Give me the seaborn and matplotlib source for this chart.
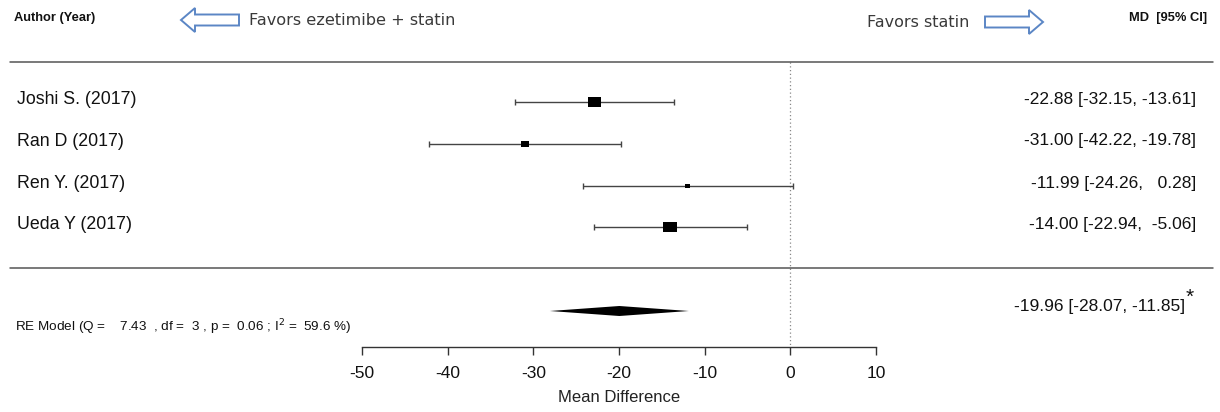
import numpy as np
import matplotlib
matplotlib.use("Agg")
import matplotlib.pyplot as plt
import seaborn as sns
from matplotlib.path import Path
from matplotlib.patches import FancyArrow
from matplotlib.transforms import blended_transform_factory

# ---------------- data ----------------
studies = ["Joshi S. (2017)", "Ran D (2017)", "Ren Y. (2017)", "Ueda Y (2017)"]
md = [-22.88, -31.00, -11.99, -14.00]
ci_lo = [-32.15, -42.22, -24.26, -22.94]
ci_hi = [-13.61, -19.78, 0.28, -5.06]
weights = [13.0, 8.0, 5.0, 14.0]          # relative box sizes
ci_text = ["-22.88 [-32.15, -13.61]", "-31.00 [-42.22, -19.78]",
           "-11.99 [-24.26,   0.28]", "-14.00 [-22.94,  -5.06]"]
summary_md, summary_lo, summary_hi = -19.96, -28.07, -11.85
summary_text = "-19.96 [-28.07, -11.85]"
re_text = r"RE Model (Q =    7.43  , df =  3 , p =  0.06 ; I$^2$ =  59.6 %)"
xticks = [-50, -40, -30, -20, -10, 0, 10]

# ---------------- layout ----------------
W, H = 1220, 412
sns.set_style("white")
plt.rcParams["font.family"] = ["Liberation Sans", "DejaVu Sans"]

fig = plt.figure(figsize=(W / 100, H / 100), dpi=100)
x0, x1, yax = 362, 876, 347
ax = fig.add_axes([x0 / W, (H - yax) / H, (x1 - x0) / W, yax / H])
ax.set_xlim(-50, 10)
ax.set_ylim(yax, 0)
for s in ["top", "left", "right"]:
    ax.spines[s].set_visible(False)
ax.spines["bottom"].set_color("#333333")
ax.spines["bottom"].set_linewidth(1.0)
ax.set_yticks([])
ax.set_xticks(xticks)
ax.set_xticklabels([str(t) for t in xticks])
ax.tick_params(axis="x", direction="out", length=6, width=1.0, color="#333333",
               labelsize=12.5, pad=7.5, bottom=True, labelcolor="#111111")
ax.set_xlabel("Mean Difference", fontsize=12, labelpad=7, color="#222222")
ax.patch.set_alpha(0)

rows_y = [102, 144, 186, 227]
sum_y = 311

# dotted reference line at 0
ax.vlines(0, 62, yax - 2, colors="#888888", linestyles=(0, (1, 2)), linewidth=0.9)

# confidence intervals
ax.errorbar(md, rows_y, xerr=[np.array(md) - np.array(ci_lo), np.array(ci_hi) - np.array(md)],
            fmt="none", ecolor="#444444", elinewidth=1.0, capsize=2.0, capthick=1.0)

# boxes (rectangular marker, wider than tall)
asp = 1.4
box = Path([(-asp, -1), (asp, -1), (asp, 1), (-asp, 1), (-asp, -1)],
           [Path.MOVETO, Path.LINETO, Path.LINETO, Path.LINETO, Path.CLOSEPOLY])
wmax = max(weights)
sizes = [(14.0 * w / wmax * 0.72) ** 2 for w in weights]
sns.scatterplot(x=md, y=rows_y, ax=ax, marker=box, s=sizes, color="black",
                edgecolor="none", linewidth=0, legend=False, zorder=3)

# summary diamond
ax.fill([summary_lo, summary_md, summary_hi, summary_md],
        [sum_y, sum_y - 5, sum_y, sum_y + 5], color="black", lw=0, zorder=3)

# ---------------- texts & lines outside ----------------
tr = blended_transform_factory(fig.transFigure, ax.transData)

def fx(px):
    return px / W

for y in [62, 268]:
    ax.plot([fx(10), fx(1213)], [y, y], transform=tr, color="#555555", lw=1.1,
            clip_on=False)

for name, y in zip(studies, rows_y):
    ax.text(fx(17), y - 3, name, transform=tr, ha="left", va="center",
            fontsize=12.8, color="#111111", clip_on=False)
for t, y in zip(ci_text, rows_y):
    ax.text(fx(1196), y - 3, t, transform=tr, ha="right", va="center",
            fontsize=12.5, color="#111111", clip_on=False)

ax.text(fx(1185), sum_y - 4, summary_text, transform=tr, ha="right", va="center",
        fontsize=12.5, color="#111111", clip_on=False)
ax.text(fx(1186), sum_y - 14, "*", transform=tr, ha="left", va="center",
        fontsize=15, color="#111111", clip_on=False)
ax.text(fx(15), 327, re_text, transform=tr, ha="left", va="center",
        fontsize=9.7, color="#111111", clip_on=False)

ax.text(fx(14), 18, "Author (Year)", transform=tr, ha="left", va="center",
        fontsize=9.3, fontweight="bold", color="#111111", clip_on=False)
ax.text(fx(1207), 18, "MD  [95% CI]", transform=tr, ha="right", va="center",
        fontsize=9.3, fontweight="bold", color="#111111", clip_on=False)

ax.text(fx(249), 20, "Favors ezetimibe + statin", transform=tr, ha="left",
        va="center", fontsize=11.6, color="#3a3a3a", family="DejaVu Sans",
        clip_on=False)
ax.text(fx(867), 22, "Favors statin", transform=tr, ha="left",
        va="center", fontsize=11.5, color="#3a3a3a", family="DejaVu Sans",
        clip_on=False)

# hollow block arrows (in figure space)
pix = fig.transFigure
def arrow(xs, xe, yc):
    a = FancyArrow(fx(xs), 1 - yc / H, fx(xe) - fx(xs), 0,
                   width=11 / H, head_width=24 / H, head_length=14 / W,
                   length_includes_head=True, transform=pix,
                   facecolor="white", edgecolor="#5b86c5", lw=1.4)
    fig.add_artist(a)

arrow(239, 181, 20)
arrow(985, 1043, 22)

fig.savefig("out.png", dpi=100)
